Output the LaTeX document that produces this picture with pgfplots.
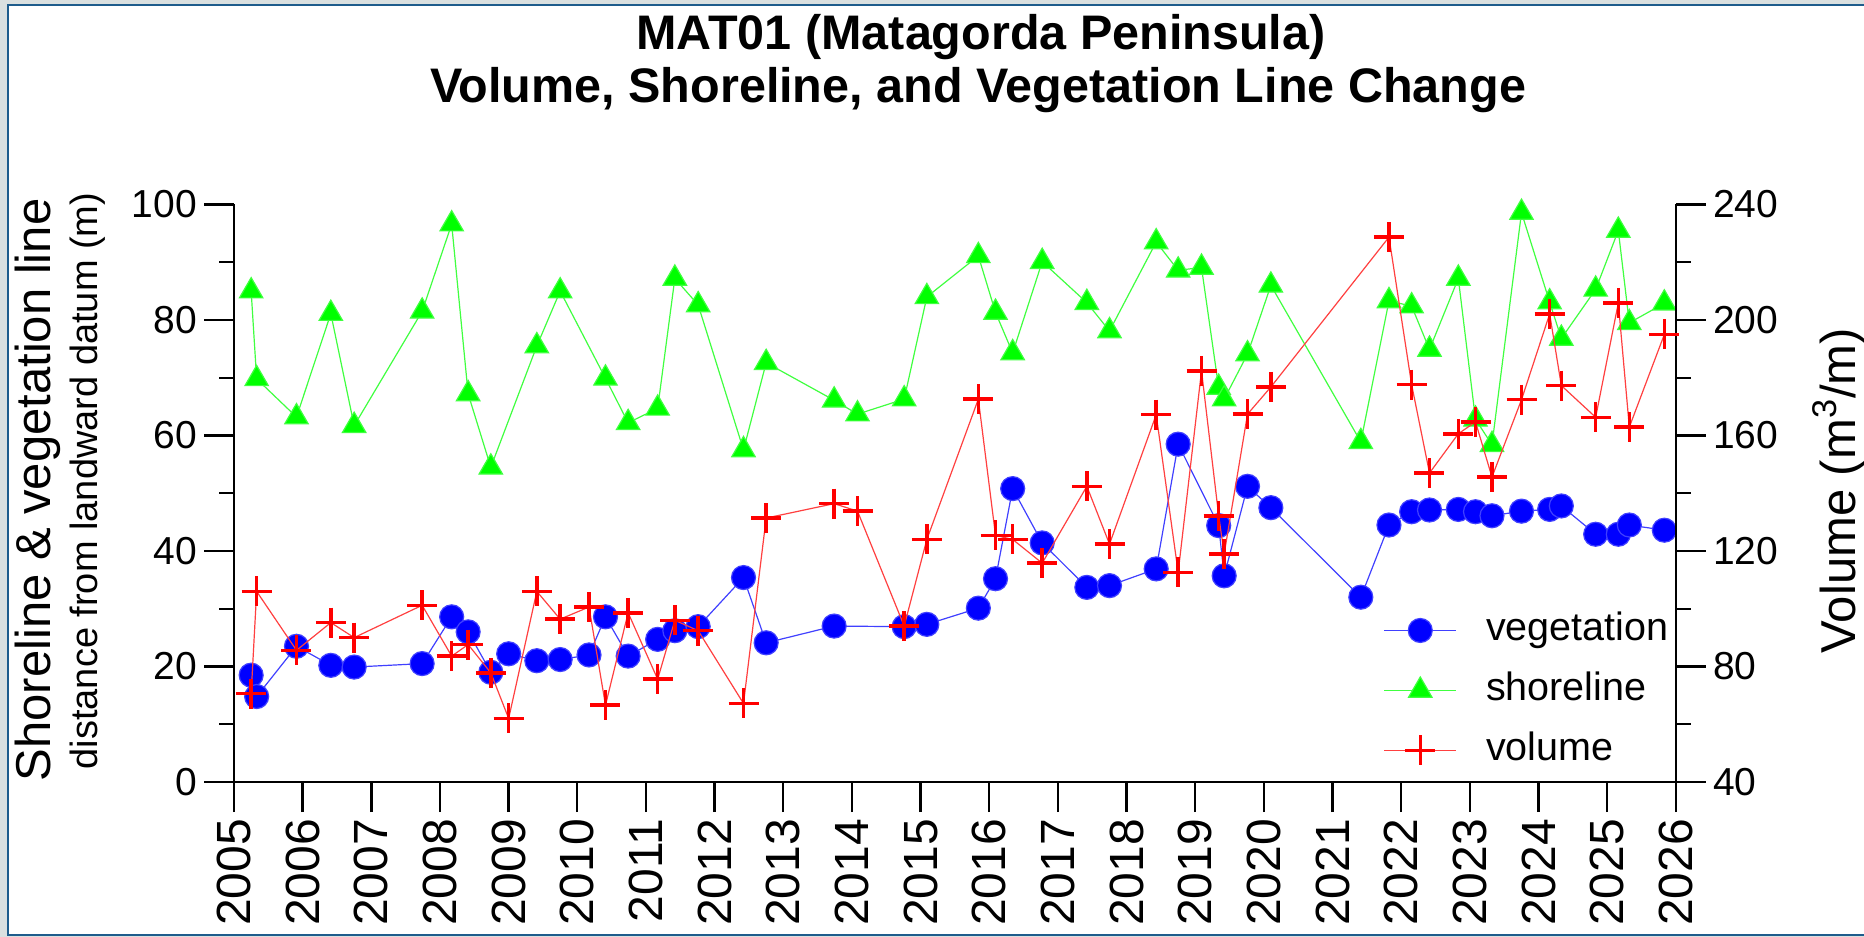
\documentclass[border=0pt]{standalone}
\usepackage{fontspec}
\setmainfont{Liberation Sans}
\usepackage{pgfplots}
\usepackage{pgfplotstable}
\pgfplotsset{compat=1.18}
\definecolor{bggray}{RGB}{218,224,224}
\definecolor{frameblue}{RGB}{30,92,140}
\definecolor{vblue}{RGB}{0,0,255}
\definecolor{sgreen}{RGB}{0,255,0}
\definecolor{vred}{RGB}{255,0,0}

\pgfplotstableread{
x y
2005.25 18.5
2005.33 14.8
2005.91 23.5
2006.41 20.2
2006.75 19.9
2007.74 20.5
2008.17 28.6
2008.41 26.0
2008.74 19.0
2009.00 22.2
2009.41 21.0
2009.75 21.2
2010.17 22.0
2010.41 28.6
2010.74 21.8
2011.17 24.7
2011.42 26.2
2011.76 26.9
2012.42 35.4
2012.75 24.1
2013.74 27.0
2014.76 26.9
2015.09 27.3
2015.84 30.1
2016.09 35.2
2016.34 50.8
2016.77 41.4
2017.42 33.7
2017.75 34.0
2018.43 36.9
2018.75 58.5
2019.34 44.4
2019.42 35.7
2019.76 51.2
2020.10 47.5
2021.41 32.0
2021.82 44.5
2022.15 46.8
2022.41 47.1
2022.83 47.2
2023.08 46.8
2023.32 46.1
2023.75 46.9
2024.16 47.2
2024.33 47.8
2024.83 42.9
2025.16 42.9
2025.32 44.5
2025.83 43.6
}\vegtable

\pgfplotstableread{
x y
2005.25 85.0
2005.33 69.8
2005.91 63.2
2006.41 81.1
2006.75 61.7
2007.74 81.5
2008.17 96.6
2008.41 67.2
2008.74 54.5
2009.41 75.5
2009.75 85.0
2010.41 69.9
2010.74 62.2
2011.17 64.7
2011.42 87.2
2011.76 82.6
2012.42 57.5
2012.75 72.6
2013.74 66.1
2014.08 63.7
2014.76 66.3
2015.09 84.0
2015.84 91.1
2016.09 81.3
2016.34 74.3
2016.77 90.1
2017.42 83.0
2017.75 78.1
2018.43 93.5
2018.75 88.6
2019.09 89.1
2019.34 68.3
2019.42 66.3
2019.76 74.1
2020.10 86.0
2021.41 58.9
2021.82 83.3
2022.15 82.4
2022.41 74.9
2022.83 87.2
2023.08 62.8
2023.32 58.4
2023.75 98.6
2024.16 83.1
2024.33 76.8
2024.83 85.3
2025.16 95.5
2025.32 79.5
2025.83 82.9
}\shoretable

\pgfplotstableread{
x y
2005.25 70.6
2005.33 106.0
2005.91 85.6
2006.41 95.2
2006.75 90.0
2007.74 101.2
2008.17 83.6
2008.41 87.6
2008.74 77.8
2009.00 62.0
2009.41 106.0
2009.75 96.4
2010.17 100.6
2010.41 66.6
2010.74 98.6
2011.17 75.6
2011.42 96.0
2011.76 92.4
2012.42 67.2
2012.75 131.4
2013.74 136.4
2014.08 133.8
2014.76 94.0
2015.09 124.0
2015.84 172.6
2016.09 125.4
2016.34 124.0
2016.77 115.8
2017.42 142.4
2017.75 122.4
2018.43 167.2
2018.75 112.6
2019.09 182.4
2019.34 132.2
2019.42 119.0
2019.76 167.4
2020.10 176.8
2021.82 228.7
2022.15 177.6
2022.41 147.0
2022.83 160.6
2023.08 164.7
2023.32 145.6
2023.75 172.4
2024.16 202.1
2024.33 177.3
2024.83 166.3
2025.16 205.9
2025.32 162.9
2025.83 195.0
}\voltable

\pgfplotsset{
  common/.style={
    at={(117pt,77.5pt)}, anchor=south west,
    scale only axis, width=721pt, height=288.75pt,
    xmin=2005, xmax=2026, clip=false,
    tick align=outside, major tick length=15pt, minor tick length=7.5pt,
    every tick/.style={black, line width=1.2pt},
    axis line style={black, line width=1.4pt, -},
    /pgf/number format/assume math mode=true,
    /pgf/number format/1000 sep={},
    ticklabel style={font=\fontsize{19.5}{19.5}\selectfont},
  },
  vegst/.style={vblue!75!white, line width=0.6pt, mark=*, mark size=6pt,
    mark options={fill=vblue, draw=none}},
  shst/.style={sgreen!75!white, line width=0.6pt, mark=triangle*, mark size=6.75pt,
    mark options={fill=sgreen, draw=none}},
  volst/.style={vred!75!white, line width=0.6pt, mark=+, mark size=7.5pt,
    mark options={draw=vred, line width=1.75pt}},
}

\begin{document}
\begin{tikzpicture}
\path[use as bounding box] (0pt,0pt) rectangle (932pt,468.5pt);
\clip (0pt,0pt) rectangle (932pt,468.5pt);
\fill[bggray] (0pt,0pt) rectangle (932pt,468.5pt);
\fill[white] (4pt,1pt) rectangle (932pt,466pt);
\draw[frameblue, line width=1.3pt] (933pt,466pt) -- (4pt,466pt) -- (4pt,1pt) -- (933pt,1pt);

\node[anchor=base, font=\bfseries\fontsize{24.25}{24.25}\selectfont] at (490.5pt,443.5pt) {MAT01 (Matagorda Peninsula)};
\node[anchor=base, font=\bfseries\fontsize{24.25}{24.25}\selectfont] at (489pt,417pt) {Volume, Shoreline, and Vegetation Line Change};

\node[anchor=base, rotate=90, inner sep=0pt, font=\fontsize{24.5}{24.5}\selectfont] at (25pt,223.5pt) {Shoreline \& vegetation line};
\node[anchor=base, rotate=90, inner sep=0pt, font=\fontsize{19}{19}\selectfont] at (48.5pt,228pt) {distance from landward datum (m)};
\node[anchor=base, rotate=90, inner sep=0pt, font=\fontsize{24.5}{24.5}\selectfont] at (927.5pt,223.25pt) {Volume (m\textsuperscript{3}/m)};

\begin{axis}[common, ymin=0, ymax=100,
  axis x line*=bottom, axis y line*=left,
  xtick={2005,...,2026}, minor xtick={},
  ytick={0,20,...,100}, minor ytick={10,30,...,90},
  xticklabel style={rotate=90, anchor=east, font=\fontsize{24}{24}\selectfont},
]
\addplot[vegst] table {\vegtable};
\addplot[shst] table {\shoretable};
\end{axis}

\begin{axis}[common, ymin=40, ymax=240,
  axis x line=none, axis y line*=right, xtick=\empty,
  ytick={40,80,...,240}, minor ytick={60,100,...,220},
  legend style={at={(0.797,0.1585)}, anchor=west, draw=none, fill=none,
    inner sep=0pt, row sep=11pt, column sep=14.6pt,
    font=\fontsize{19.75}{19.75}\selectfont,
    nodes={inner sep=0pt, text height=14.5pt, text depth=4.5pt}},
  legend cell align=left,
  legend image code/.code={\draw[mark repeat=2, mark phase=2, #1] plot coordinates {(0pt,0pt) (18pt,0pt) (36pt,0pt)};},
]
\addlegendimage{vegst}
\addlegendentry{vegetation}
\addlegendimage{shst}
\addlegendentry{shoreline}
\addplot[volst] table {\voltable};
\addlegendentry{volume}
\end{axis}
\end{tikzpicture}
\end{document}
